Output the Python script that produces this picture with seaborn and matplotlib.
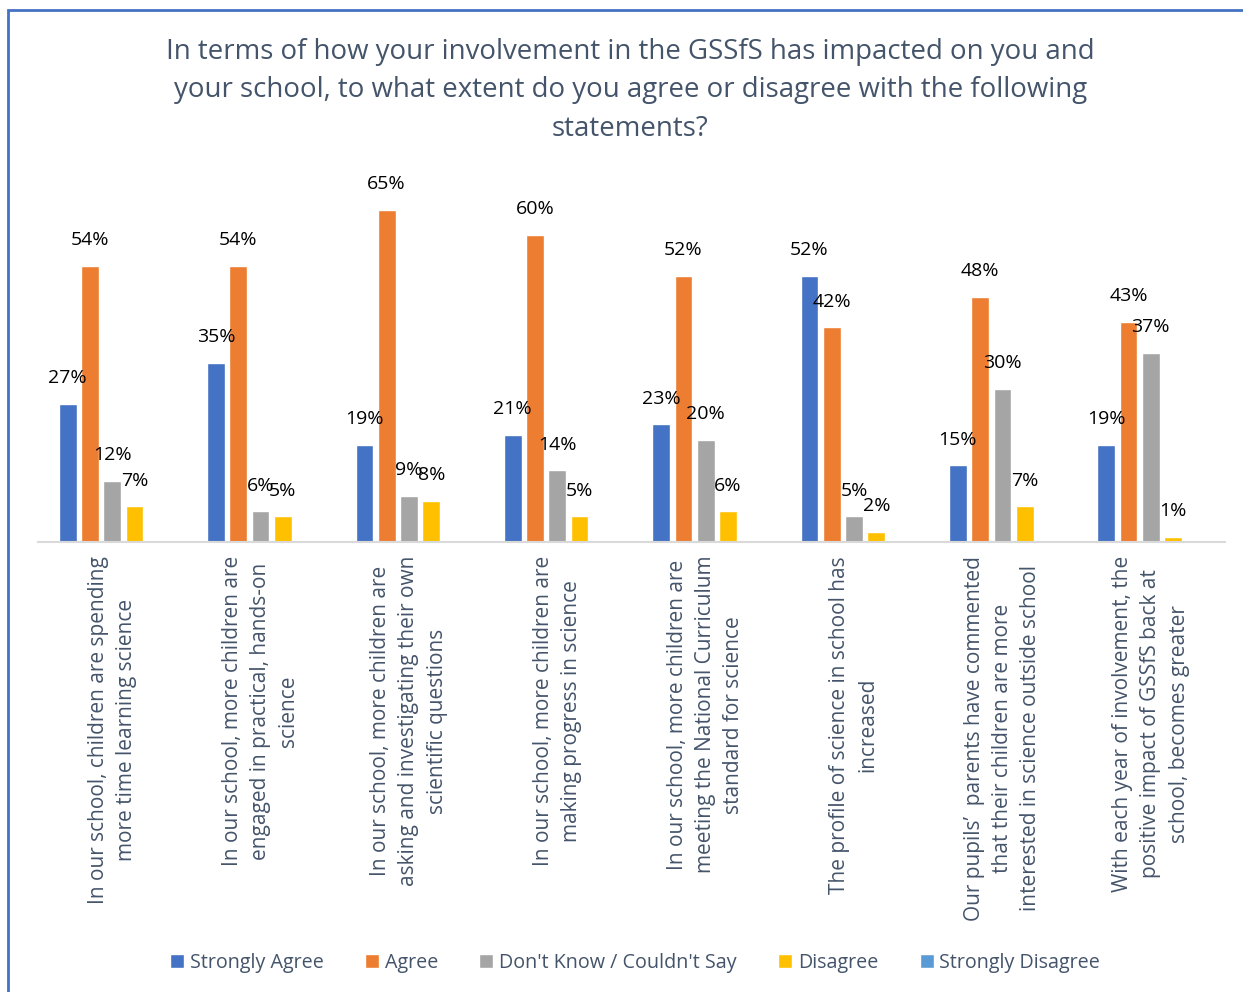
import matplotlib
matplotlib.use("Agg")
import matplotlib.pyplot as plt
import seaborn as sns
import pandas as pd
from matplotlib.patches import Rectangle

# --- DATA ---
statements = [
    "In our school, children are spending\nmore time learning science",
    "In our school, more children are\nengaged in practical, hands-on\nscience",
    "In our school, more children are\nasking and investigating their own\nscientific questions",
    "In our school, more children are\nmaking progress in science",
    "In our school, more children are\nmeeting the National Curriculum\nstandard for science",
    "The profile of science in school has\nincreased",
    "Our pupils\u2019  parents have commented\nthat their children are more\ninterested in science outside school",
    "With each year of involvement, the\npositive impact of GSSfS back at\nschool, becomes greater",
]
responses = ["Strongly Agree", "Agree", "Don't Know / Couldn't Say", "Disagree", "Strongly Disagree"]
strongly_agree = [27, 35, 19, 21, 23, 52, 15, 19]
agree = [54, 54, 65, 60, 52, 42, 48, 43]
dont_know = [12, 6, 9, 14, 20, 5, 30, 37]
disagree = [7, 5, 8, 5, 6, 2, 7, 1]
strongly_disagree = [0, 0, 0, 0, 0, 0, 0, 0]
colors = ["#4472C4", "#ED7D31", "#A5A5A5", "#FFC000", "#5B9BD5"]

title = ("In terms of how your involvement in the GSSfS has impacted on you and\n"
         "your school, to what extent do you agree or disagree with the following\n"
         "statements?")

series = [strongly_agree, agree, dont_know, disagree, strongly_disagree]
rows = []
for resp, vals in zip(responses, series):
    for stmt, v in zip(statements, vals):
        rows.append({"statement": stmt, "response": resp, "value": v})
df = pd.DataFrame(rows)

# --- STYLE ---
sns.set_style("white")
plt.rcParams["font.family"] = ["Open Sans", "DejaVu Sans"]
TXT = "#44546A"

fig = plt.figure(figsize=(12.43, 9.92), dpi=100)
ax = fig.add_axes([38 / 1243, 1 - 542 / 992, (1225 - 38) / 1243, 358 / 992])

sns.barplot(data=df, x="statement", y="value", hue="response", order=statements,
            hue_order=responses, palette=colors, width=0.75, gap=0.2,
            ax=ax, saturation=1, legend=True)

ax.set_ylim(0, 70)
ax.set_xlim(-0.5, 7.5)

# data labels (zero bars stay unlabelled)
for cont, resp in zip(ax.containers, responses):
    labels = [f"{int(v)}%" if v > 0 else "" for v in cont.datavalues]
    ax.bar_label(cont, labels=labels, padding=12, fontsize=14, color="black", clip_on=False)

for s in ["top", "right", "left"]:
    ax.spines[s].set_visible(False)
ax.spines["bottom"].set_color("#D9D9D9")
ax.spines["bottom"].set_linewidth(1.5)
ax.set_yticks([])
ax.set_xlabel("")
ax.set_ylabel("")
ax.tick_params(axis="x", length=0, pad=10)
ax.set_xticks(range(len(statements)))
ax.set_xticklabels(statements, rotation=90, fontsize=15, color=TXT,
                   ha="center", va="top", multialignment="center", linespacing=1.45)

sns.move_legend(ax, "lower center", bbox_to_anchor=(0.511, 0.001), bbox_transform=fig.transFigure,
                ncol=5, frameon=False, title=None, fontsize=14.2, handlelength=0.7,
                handleheight=0.7, handletextpad=0.3, columnspacing=2.1)
for t in ax.get_legend().get_texts():
    t.set_color(TXT)

fig.text(0.507, 1 - 38 / 992, title, ha="center", va="top", fontsize=19.9,
         color=TXT, linespacing=1.5)

# chart border
fig.patches.append(Rectangle((8 / 1243, -0.05), 1.1, 1 - 10 / 992 + 0.05,
                             transform=fig.transFigure, fill=False,
                             edgecolor="#4472C4", linewidth=2))

fig.savefig("out.png", dpi=100)
